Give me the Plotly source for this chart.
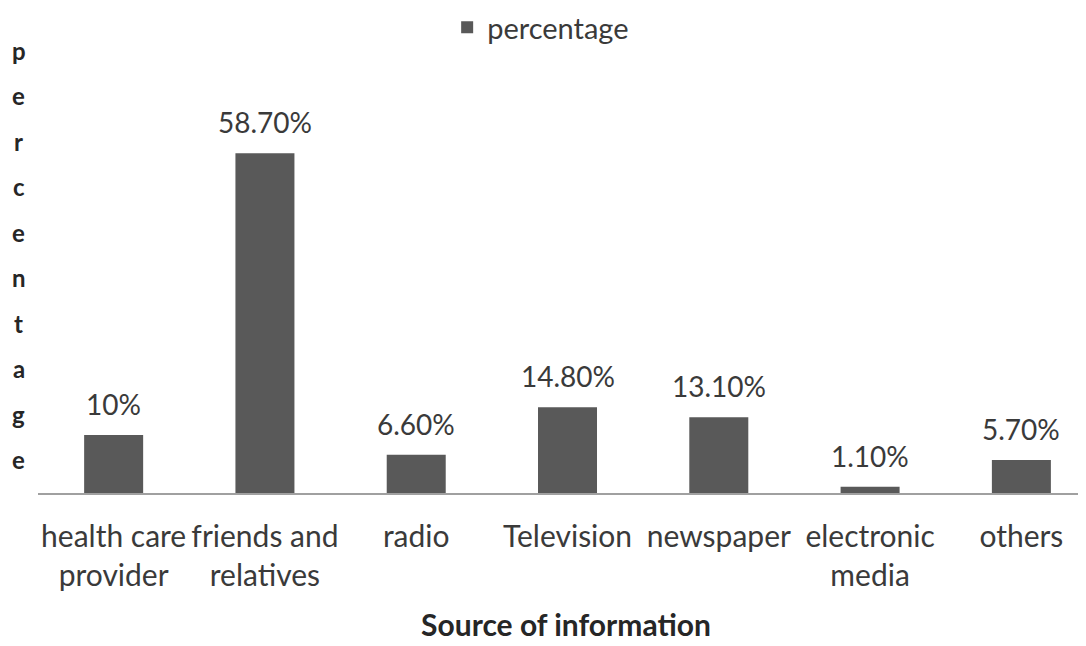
import plotly.graph_objects as go

categories = ["health care<br>provider", "friends and<br>relatives", "radio", "Television",
              "newspaper", "electronic<br>media", "others"]
values = [10, 58.7, 6.6, 14.8, 13.1, 1.1, 5.7]
labels = ["10%", "58.70%", "6.60%", "14.80%", "13.10%", "1.10%", "5.70%"]
y_title_letters = list("percentage")

FONT = "Lato"
TXT = "#3a3a3a"
xs = list(range(len(categories)))

fig = go.Figure()
fig.add_trace(go.Bar(
    x=xs, y=values, name="percentage",
    marker=dict(color="#595959", line=dict(width=0)),
    width=0.39, cliponaxis=False,
))

annotations = []
# data labels above bars
for xi, v, lab in zip(xs, values, labels):
    annotations.append(dict(x=xi, y=v, xref="x", yref="y", text=lab, showarrow=False,
                            yanchor="middle", yshift=31,
                            font=dict(family=FONT, size=28, color=TXT)))
# stacked vertical y-axis title letters
for i, ch in enumerate(y_title_letters):
    py = 50 + i * 45.5
    annotations.append(dict(x=-0.018, y=(493 - py) / 448, xref="paper", yref="paper",
                            text="<b>" + ch + "</b>", showarrow=False,
                            xanchor="center", yanchor="middle",
                            font=dict(family=FONT, size=24, color="#262626")))

fig.update_layout(
    width=1086, height=646,
    paper_bgcolor="white", plot_bgcolor="white",
    margin=dict(l=30, r=0, t=37, b=161, autoexpand=False),
    font=dict(family=FONT, color=TXT),
    showlegend=True,
    legend=dict(orientation="h", x=0.476, xanchor="center", y=0.97, yanchor="middle",
                yref="container", font=dict(family=FONT, size=29, color=TXT)),
    xaxis=dict(range=[-0.5, 6.48], tickvals=xs, tickangle=0,
               ticktext=categories, showline=True, linecolor="#a0a0a0", linewidth=2,
               showgrid=False, zeroline=False, ticks="", ticklabelstandoff=16,
               tickfont=dict(family=FONT, size=30, color=TXT),
               title=dict(text="<b>Source of information</b>",
                          font=dict(family=FONT, size=30, color="#262626"), standoff=24)),
    yaxis=dict(range=[0, 77.4], visible=False),
    annotations=annotations,
)
fig.write_html("out.html")
